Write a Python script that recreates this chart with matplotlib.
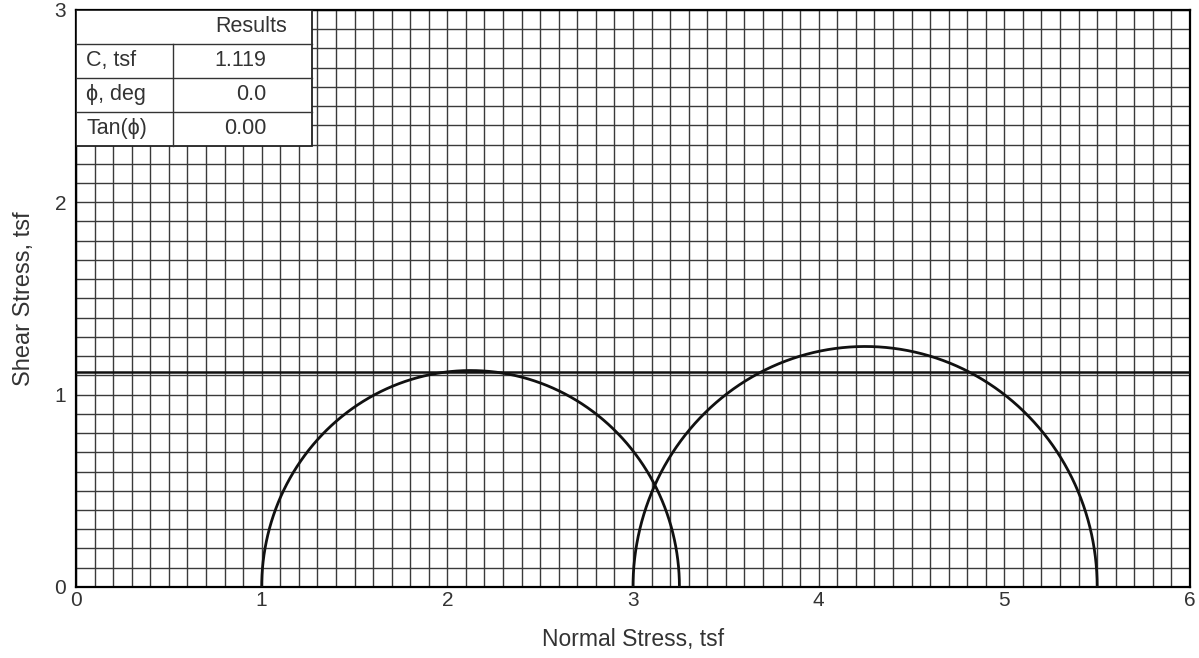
import numpy as np
import matplotlib
matplotlib.use("Agg")
import matplotlib.pyplot as plt
from matplotlib.patches import Rectangle

plt.rcParams['font.family'] = ['Liberation Sans', 'DejaVu Sans']

# Data
sigma3 = [1.0, 3.0]          # minor principal stress, tsf
sigma1 = [3.25, 5.5]         # major principal stress, tsf
cohesion = 1.119             # C, tsf
phi_deg = 0.0
tan_phi = 0.00
x_ticks = [0, 1, 2, 3, 4, 5, 6]
y_ticks = [0, 1, 2, 3]
table_labels = ["C, tsf", "\u03d5, deg", "Tan(\u03d5)"]
table_values = ["1.119", "0.0", "0.00"]

fig = plt.figure(figsize=(11.99, 6.58), dpi=100)
ax = fig.add_axes([0.0634, 0.108, 0.9291, 0.877])
ax.set_xlim(0, 6)
ax.set_ylim(0, 3)

ax.set_xticks(x_ticks)
ax.set_yticks(y_ticks)
ax.set_xticks(np.arange(0, 6.001, 0.1), minor=True)
ax.set_yticks(np.arange(0, 3.001, 0.1), minor=True)
ax.grid(True, which='both', color='#3a3a3a', linewidth=1.0)
ax.set_axisbelow(True)
ax.tick_params(which='both', length=0)
ax.tick_params(axis='both', labelsize=15, labelcolor='#333333')
ax.tick_params(axis='y', pad=7)
ax.tick_params(axis='x', pad=3)
for s in ax.spines.values():
    s.set_linewidth(1.6)
    s.set_color('black')

# Mohr circles
t = np.linspace(0, np.pi, 400)
for s3, s1 in zip(sigma3, sigma1):
    c = (s1 + s3) / 2
    r = (s1 - s3) / 2
    ax.plot(c + r * np.cos(t), r * np.sin(t), color='#111111', lw=2.0, zorder=5)

# Failure envelope
xs = np.array([0, 6])
ax.plot(xs, cohesion + np.tan(np.radians(phi_deg)) * xs, color='#111111', lw=1.8, zorder=5)

ax.set_xlabel("Normal Stress, tsf", fontsize=16.5, color='#333333', labelpad=13)
ax.set_ylabel("Shear Stress, tsf", fontsize=17, color='#333333', labelpad=14)

# Results table (axes-fraction coords)
tx0, tx1 = 0.0, 0.212
tcol = 0.087
row_h = 0.0588
ttop = 1.0
nrows = 4
tb = ttop - nrows * row_h
ax.add_patch(Rectangle((tx0, tb), tx1 - tx0, ttop - tb, transform=ax.transAxes,
                       facecolor='white', edgecolor='#222222', lw=1.3, zorder=6))
for i in range(1, nrows):
    yy = ttop - i * row_h
    ax.plot([tx0, tx1], [yy, yy], transform=ax.transAxes, color='#333333', lw=1.0, zorder=7)
ax.plot([tcol, tcol], [tb, ttop - row_h], transform=ax.transAxes, color='#333333', lw=1.0, zorder=7)
ax.text(0.189, ttop - row_h / 2, "Results", transform=ax.transAxes, ha='right', va='center',
        fontsize=15.5, color='#333333', zorder=8)
for i, (lab, val) in enumerate(zip(table_labels, table_values)):
    yc = ttop - (i + 1.5) * row_h
    ax.text(tx0 + 0.009, yc, lab, transform=ax.transAxes, ha='left', va='center',
            fontsize=15.5, color='#333333', zorder=8)
    ax.text(0.171, yc, val, transform=ax.transAxes, ha='right', va='center',
            fontsize=15.5, color='#333333', zorder=8)

fig.savefig("out.png", dpi=100)
